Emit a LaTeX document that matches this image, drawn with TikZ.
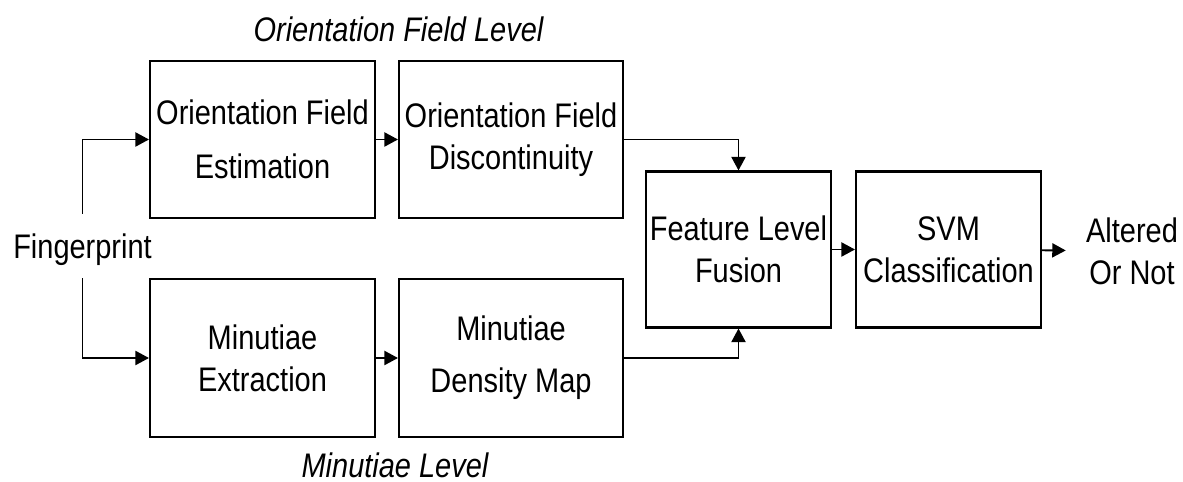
\documentclass[tikz,border=0pt]{standalone}
\usepackage{fontspec}
\setmainfont{Liberation Sans}[FakeStretch=0.85]
\usepackage{tikz}
\usetikzlibrary{positioning, arrows.meta}

\begin{document}
\begin{tikzpicture}[x=0.02cm, y=-0.02cm,
		every node/.style={font=\fontsize{19.4}{24}\selectfont},
		level/.style={font=\fontsize{19.4}{24}\selectfont\itshape},
		stage/.style={draw, line width=1.2pt, align=center, inner sep=0.05cm, minimum width=4.5cm, minimum height=3.14cm},
		flow/.style={line width=1.1pt, -{Triangle[length=0.27cm, width=0.28cm]}}]
			\useasboundingbox (0,0) rectangle (1183,482);
			\node[stage] (ofe) at (262.5,139.5) {Orientation Field\\[0.24cm]Estimation};
			\node[stage, minimum width=4.48cm] (ofd) at (511,139.5) {Orientation Field\\Discontinuity};
			\node[stage, minimum height=3.16cm] (mex) at (262.5,358) {Minutiae\\Extraction};
			\node[stage, minimum width=4.48cm, minimum height=3.16cm] (mdm) at (511,358) {Minutiae\\[0.2cm]Density Map};
			\node[stage, minimum width=3.7cm, minimum height=3.12cm] (flf) at (738.5,249.5) {Feature Level\\Fusion};
			\node[stage, minimum width=3.7cm, minimum height=3.12cm] (svm) at (948.5,249.5) {SVM\\Classification};
			\node[text height=0.66cm, text depth=0.14cm, inner ysep=0.24cm] (fp) at (82.5,246) {Fingerprint};
			\node[align=center, inner xsep=0.4cm] (out) at (1132,251) {Altered\\Or Not};
			\node[level] (oflevel) at (398.5,29) {Orientation Field Level};
			\node[level] (mlevel) at (395,465) {Minutiae Level};
			\draw[flow] (fp.north) |- (ofe.west);
			\draw[flow] (fp.south) |- (mex.west);
			\draw[flow] (ofe) -- (ofd);
			\draw[flow] (mex) -- (mdm);
			\draw[flow] (ofd.east) -| (flf.north);
			\draw[flow] (mdm.east) -| (flf.south);
			\draw[flow] (flf) -- (svm);
			\draw[flow] (svm) -- (out);
		\end{tikzpicture}
\end{document}
